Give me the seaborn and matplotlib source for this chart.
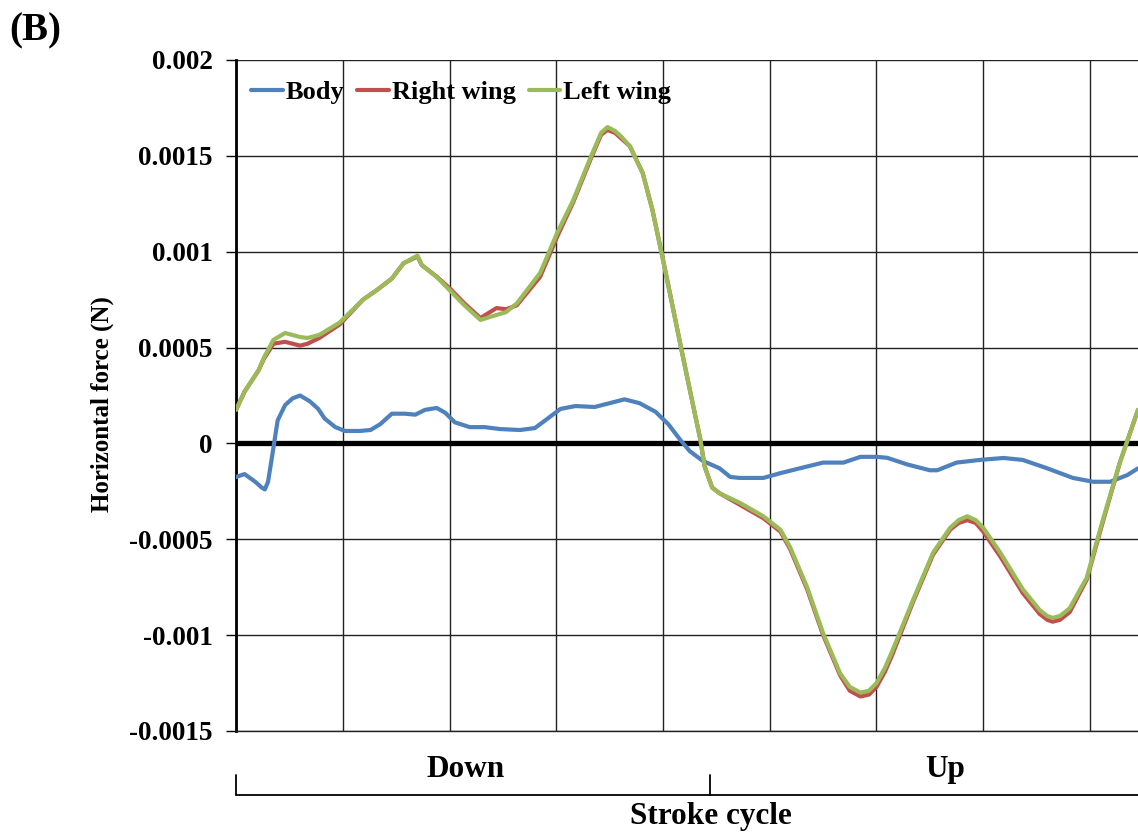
import numpy as np
import pandas as pd
import matplotlib
matplotlib.use("Agg")
import matplotlib.pyplot as plt
import matplotlib.transforms as mtransforms
import seaborn as sns

# stroke cycle position (grid units) and forces in mN
body_x = [0.00, 0.08, 0.18, 0.24, 0.27, 0.30, 0.34, 0.39, 0.46, 0.53, 0.60, 0.69,
          0.77, 0.83, 0.93, 1.02, 1.16, 1.26, 1.35, 1.46, 1.58, 1.68, 1.77, 1.88,
          1.96, 2.05, 2.19, 2.33, 2.47, 2.66, 2.80, 2.92, 3.04, 3.18, 3.36, 3.50,
          3.64, 3.78, 3.93, 4.05, 4.16, 4.25, 4.37, 4.53, 4.63, 4.72, 4.94, 5.10,
          5.28, 5.50, 5.69, 5.85, 6.00, 6.10, 6.29, 6.50, 6.57, 6.75, 6.97, 7.19,
          7.37, 7.60, 7.84, 8.03, 8.19, 8.35, 8.45]
body_y = [-0.175, -0.16, -0.20, -0.23, -0.24, -0.20, -0.06, 0.12, 0.20, 0.235, 0.25,
          0.22, 0.18, 0.13, 0.085, 0.065, 0.065, 0.07, 0.10, 0.155, 0.155, 0.15, 0.175,
          0.185, 0.16, 0.11, 0.085, 0.085, 0.075, 0.07, 0.08, 0.13, 0.18, 0.195, 0.19,
          0.21, 0.23, 0.21, 0.165, 0.10, 0.02, -0.04, -0.09, -0.13, -0.175, -0.18,
          -0.18, -0.155, -0.13, -0.10, -0.10, -0.07, -0.07, -0.075, -0.11, -0.14, -0.14,
          -0.10, -0.086, -0.076, -0.086, -0.13, -0.18, -0.20, -0.20, -0.165, -0.13]

wing_x = [0.00, 0.08, 0.21, 0.26, 0.35, 0.46, 0.60, 0.67, 0.78, 0.97, 1.19, 1.32,
          1.46, 1.57, 1.70, 1.74, 1.88, 2.00, 2.14, 2.29, 2.44, 2.53, 2.63, 2.85,
          3.01, 3.16, 3.32, 3.42, 3.48, 3.55, 3.61, 3.69, 3.81, 3.90, 4.00, 4.18,
          4.27, 4.35, 4.39, 4.46, 4.53, 4.72, 4.94, 5.10, 5.19, 5.35, 5.50, 5.66,
          5.75, 5.85, 5.93, 6.00, 6.08, 6.15, 6.34, 6.53, 6.69, 6.77, 6.85, 6.93,
          7.00, 7.16, 7.37, 7.53, 7.60, 7.65, 7.72, 7.81, 7.97, 8.12, 8.28, 8.45]
left_y = [0.175, 0.27, 0.38, 0.446, 0.54, 0.576, 0.555, 0.55, 0.566, 0.63, 0.75,
          0.80, 0.86, 0.94, 0.98, 0.93, 0.868, 0.80, 0.72, 0.644, 0.67, 0.685, 0.73,
          0.89, 1.10, 1.27, 1.49, 1.62, 1.65, 1.63, 1.60, 1.55, 1.41, 1.22, 0.957,
          0.47, 0.23, 0.02, -0.12, -0.23, -0.26, -0.31, -0.38, -0.45, -0.54, -0.75,
          -0.99, -1.20, -1.27, -1.30, -1.29, -1.25, -1.17, -1.08, -0.82, -0.57, -0.44,
          -0.40, -0.38, -0.40, -0.44, -0.57, -0.76, -0.87, -0.90, -0.91, -0.90, -0.86,
          -0.70, -0.40, -0.10, 0.175]
right_y = [0.175, 0.27, 0.38, 0.44, 0.52, 0.53, 0.51, 0.52, 0.55, 0.62, 0.75,
           0.80, 0.86, 0.94, 0.975, 0.93, 0.87, 0.81, 0.73, 0.654, 0.706, 0.70, 0.72,
           0.87, 1.08, 1.26, 1.48, 1.61, 1.635, 1.62, 1.59, 1.55, 1.41, 1.22, 0.96,
           0.47, 0.23, 0.02, -0.12, -0.23, -0.26, -0.32, -0.39, -0.46, -0.55, -0.76,
           -1.00, -1.21, -1.29, -1.32, -1.31, -1.27, -1.19, -1.10, -0.83, -0.58, -0.45,
           -0.415, -0.40, -0.415, -0.46, -0.59, -0.78, -0.89, -0.92, -0.93, -0.92, -0.88,
           -0.71, -0.41, -0.10, 0.175]

y_ticks = [-0.0015, -0.001, -0.0005, 0, 0.0005, 0.001, 0.0015, 0.002]
y_labels = ["-0.0015", "-0.001", "-0.0005", "0", "0.0005", "0.001", "0.0015", "0.002"]
phase_names = ["Down", "Up"]
phase_split = 4.44

sns.set_theme(style="white")
plt.rcParams["font.family"] = ["Liberation Serif", "DejaVu Serif"]
plt.rcParams["font.weight"] = "bold"
plt.rcParams["text.color"] = "black"
plt.rcParams["axes.labelcolor"] = "black"
plt.rcParams["ytick.color"] = "black"
plt.rcParams["xtick.color"] = "black"

body = pd.DataFrame({"x": body_x, "force": np.array(body_y) * 1e-3, "series": "Body"})
right = pd.DataFrame({"x": wing_x, "force": np.array(right_y) * 1e-3, "series": "Right wing"})
left = pd.DataFrame({"x": wing_x, "force": np.array(left_y) * 1e-3, "series": "Left wing"})
df = pd.concat([body, right, left], ignore_index=True)

fig = plt.figure(figsize=(11.38, 8.32), dpi=100)
ax = fig.add_axes([0.2074, 0.1214, 0.7926, 0.8065])

sns.lineplot(data=df, x="x", y="force", hue="series", sort=False, estimator=None,
             palette={"Body": "#4F81BD", "Right wing": "#C0504D", "Left wing": "#9BBB59"},
             linewidth=3, ax=ax, zorder=3)
for ln in ax.get_lines():
    ln.set_solid_joinstyle("round")
    ln.set_solid_capstyle("round")

ax.set_xlim(0, 8.45)
ax.set_ylim(-0.0015, 0.002)
ax.set_xticks(np.arange(0, 9, 1))
ax.set_xticklabels([])
ax.set_yticks(y_ticks)
ax.set_yticklabels(y_labels, fontsize=19.5, fontweight="bold")
ax.grid(True, color="#222222", linewidth=1.0)
ax.axhline(0, color="black", linewidth=3.8, zorder=2)
ax.tick_params(axis="y", direction="out", length=7, width=1, color="black", pad=10, left=True)
ax.tick_params(axis="x", length=0)

for side in ["top", "right"]:
    ax.spines[side].set_visible(False)
ax.spines["left"].set_color("black")
ax.spines["left"].set_linewidth(2)
ax.spines["bottom"].set_color("#222222")
ax.spines["bottom"].set_linewidth(1)

ax.set_xlabel("")
ax.set_ylabel("Horizontal force (N)", fontsize=18, fontweight="bold")
ax.yaxis.set_label_coords(-0.135, 0.487)

leg = ax.legend(loc="upper left", bbox_to_anchor=(0.005, 0.985), ncol=3, frameon=False,
                fontsize=19, handlelength=1.2, handletextpad=0.1, columnspacing=0.5,
                borderaxespad=0)
for t in leg.get_texts():
    t.set_fontweight("bold")
for h in leg.get_lines():
    h.set_linewidth(3)

# stroke phase bracket below the axis
trans = mtransforms.blended_transform_factory(ax.transData, ax.transAxes)
ax.plot([0, 8.45], [-0.0954, -0.0954], color="black", lw=1.3, transform=trans, clip_on=False)
ax.plot([0, 0], [-0.0954, -0.0656], color="black", lw=1.3, transform=trans, clip_on=False)
ax.plot([phase_split, phase_split], [-0.0954, -0.0656], color="black", lw=1.3,
        transform=trans, clip_on=False)
ax.text(2.15, -0.057, phase_names[0], transform=trans, ha="center", va="center",
        fontsize=22.5, fontweight="bold")
ax.text(6.64, -0.057, phase_names[1], transform=trans, ha="center", va="center",
        fontsize=22.5, fontweight="bold")
ax.text(4.45, -0.128, "Stroke cycle", transform=trans, ha="center", va="center",
        fontsize=22.5, fontweight="bold")

fig.text(0.008, 0.963, "(B)", fontsize=28, fontweight="bold", ha="left", va="center")

fig.savefig("out.png", dpi=100)
